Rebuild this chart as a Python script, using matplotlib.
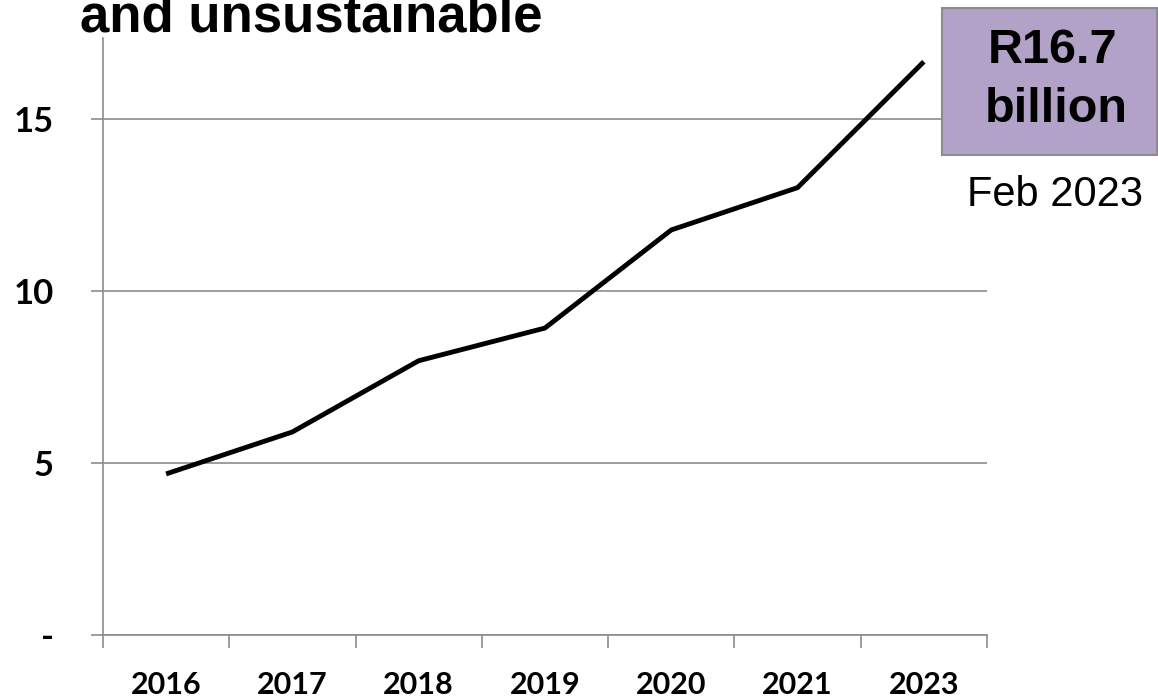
import matplotlib.pyplot as plt
from matplotlib.patches import Rectangle

years = ["2016", "2017", "2018", "2019", "2020", "2021", "2023"]
values = [4.68, 5.9, 7.97, 8.92, 11.77, 13.0, 16.66]
yticks = [0, 5, 10, 15]
ytick_labels = ["-", "5", "10", "15"]

fig = plt.figure(figsize=(11.58, 6.98), dpi=100)
ax = fig.add_axes([0.0889, 0.0903, 0.7634, 0.8553])

x = list(range(len(years)))
ax.plot(x, values, color="black", lw=3.5, solid_capstyle="butt", zorder=3)

ax.set_xlim(-0.5, len(years) - 0.5)
ax.set_ylim(0, 17.35)

# gridlines
ax.set_yticks(yticks)
ax.set_yticklabels(ytick_labels, fontfamily="Lato", fontweight="bold", fontsize=25)
ax.yaxis.grid(True, color="#8c8c8c", lw=1.2)
ax.tick_params(axis="y", length=8.6, width=1.2, color="#8c8c8c", pad=27)

ax.set_xticks(x)
ax.set_xticklabels(years, fontfamily="Lato", fontweight="bold", fontsize=22)
ax.tick_params(axis="x", which="major", length=0, pad=26)
ax.set_xticks([i - 0.5 for i in range(len(years) + 1)], minor=True)
ax.tick_params(axis="x", which="minor", length=9, width=1.2, color="#8c8c8c")

for side in ["top", "right"]:
    ax.spines[side].set_visible(False)
for side in ["left", "bottom"]:
    ax.spines[side].set_color("#8c8c8c")
    ax.spines[side].set_linewidth(1.2)

# title line (cut at top)
fig.text(0.069, 1 - 32 / 698, "and unsustainable", fontfamily="Liberation Sans",
         fontweight="bold", fontsize=38, va="baseline", ha="left")

# annotation box
box = Rectangle((942 / 1158, 1 - 155 / 698), 215 / 1158, 147 / 698,
                transform=fig.transFigure, facecolor="#b3a2c7",
                edgecolor="#8c8c8c", lw=1.5, zorder=5)
fig.patches.append(box)
fig.text(1053 / 1158, 1 - 63 / 698, "R16.7", fontfamily="Liberation Sans",
         fontweight="bold", fontsize=35, ha="center", va="baseline", zorder=6)
fig.text(1056 / 1158, 1 - 122 / 698, "billion", fontfamily="Liberation Sans",
         fontweight="bold", fontsize=35, ha="center", va="baseline", zorder=6)
fig.text(1055 / 1158, 1 - 195 / 698, "Feb 2023", fontfamily="Liberation Sans",
         fontsize=30, ha="center", va="center")

fig.savefig("out.png", dpi=100)
